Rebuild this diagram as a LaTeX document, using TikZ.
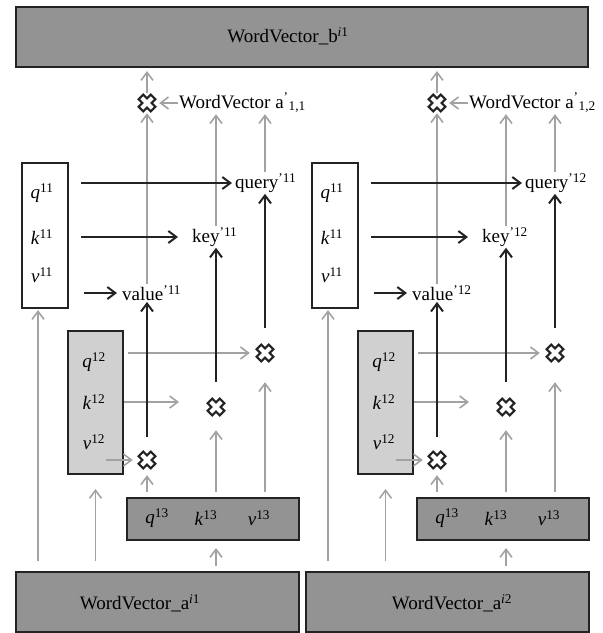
\documentclass[tikz,border=0pt]{standalone}
\usepackage{fontspec}
\setmainfont{Liberation Serif}
\usetikzlibrary{arrows.meta}

\definecolor{boxgray}{RGB}{147,147,147}
\definecolor{lightbox}{RGB}{208,208,208}
\definecolor{linegray}{RGB}{162,162,162}
\definecolor{inkdark}{RGB}{35,35,35}

\tikzset{
  mulx/.style={minimum size=20pt, inner sep=0pt, path picture={
    \draw[inkdark, line width=2.2pt, fill=white, shift={(path picture bounding box.center)}]
      (-3.75,8.41) -- (0,4.67) -- (3.75,8.41) -- (8.41,3.75) -- (4.67,0) -- (8.41,-3.75)
      -- (3.75,-8.41) -- (0,-4.67) -- (-3.75,-8.41) -- (-8.41,-3.75) -- (-4.67,0) -- (-8.41,3.75) -- cycle;}},
}

\begin{document}
\begin{tikzpicture}[x=1pt, y=-1pt,
    >={Straight Barb[length=8pt, width=12pt]},
    every node/.style={font=\fontsize{19}{22}\selectfont, inner sep=1pt},
    dkbox/.style={draw=inkdark, line width=2pt, fill=boxgray},
    ltbox/.style={draw=inkdark, line width=2pt, fill=lightbox},
    whbox/.style={draw=inkdark, line width=2pt, fill=white},
    garrow/.style={->, draw=linegray, line width=1.6pt},
    barrow/.style={->, draw=inkdark, line width=2pt}]
    \useasboundingbox (0,0) rectangle (603,633);

    % Sortie
    \node[dkbox, minimum width=572pt, minimum height=60pt] (out) at (302,37) {};
    \node (outtxt) at (288,36) {WordVector\_b\textsuperscript{\textit{i}1}};

    \foreach \i/\tx in {1/140,2/162}{
    \begin{scope}[xshift={(\i-1)*290pt}]
    % Entree
    \node[dkbox, minimum width=283pt, minimum height=60pt] (in\i) at (157.5,602) {};
    \node (intxt\i) at (\tx,603) {WordVector\_a\textsuperscript{\textit{i}\i}};

    % Boites q k v
    \node[whbox, minimum width=46pt, minimum height=145pt] (qkvA\i) at (45,235.5) {};
    \node (qa\i) at (42,193) {\textit{q}\textsuperscript{11}};
    \node (ka\i) at (42,237) {\textit{k}\textsuperscript{11}};
    \node (va\i) at (42,275) {\textit{v}\textsuperscript{11}};
    \node[ltbox, minimum width=55pt, minimum height=143pt] (qkvB\i) at (95.5,402.5) {};
    \node (qb\i) at (94,362) {\textit{q}\textsuperscript{12}};
    \node (kb\i) at (94,402) {\textit{k}\textsuperscript{12}};
    \node (vb\i) at (94,442) {\textit{v}\textsuperscript{12}};
    \node[dkbox, minimum width=172pt, minimum height=42pt] (qkvC\i) at (213,519) {};
    \node (qc\i) at (157,518) {\textit{q}\textsuperscript{13}};
    \node (kc\i) at (206,518) {\textit{k}\textsuperscript{13}};
    \node (vc\i) at (259,518) {\textit{v}\textsuperscript{13}};
    \coordinate (ax\i) at (38,310);

    % Produits
    \node[mulx] (m0\i) at (147,103) {};
    \node[mulx] (m1\i) at (265,353) {};
    \node[mulx] (m2\i) at (216,407) {};
    \node[mulx] (m3\i) at (147,460) {};

    % Resultats
    \node[anchor=west] (aw\i) at (178,103) {WordVector a\textsuperscript{'}\textsubscript{1,\i}};
    \node[anchor=west] (qry\i) at (234,183) {query\textsuperscript{'1\i}};
    \node[anchor=west] (key\i) at (191,237) {key\textsuperscript{'1\i}};
    \node[anchor=west] (val\i) at (121,293) {value\textsuperscript{'1\i}};

    % Fleches grises
    \draw[garrow, shorten >=3pt] (m0\i) -- (m0\i |- out.south);
    \draw[garrow, shorten >=2pt] (aw\i) -- (m0\i);
    \draw[garrow] (m3\i |- val\i.north) -- (m0\i);
    \draw[garrow] (m2\i |- key\i.north) -- (m2\i |- aw\i.south);
    \draw[garrow] (m1\i |- qry\i.north) -- (m1\i |- aw\i.south);
    \draw[garrow, shorten <=4pt, shorten >=5pt] (qkvB\i.east |- m1\i) -- (m1\i);
    \draw[garrow, shorten >=12pt] (qkvB\i.east |- kb\i) -- (key\i.west |- kb\i);
    \draw[garrow, shorten >=4pt] (vb\i.east |- m3\i) -- (m3\i);
    \draw[garrow, shorten <=5pt, shorten >=5pt] (m3\i |- qkvC\i.north) -- (m3\i);
    \draw[garrow, shorten <=5pt, shorten >=13pt] (m2\i |- qkvC\i.north) -- (m2\i);
    \draw[garrow, shorten <=5pt, shorten >=19pt] (m1\i |- qkvC\i.north) -- (m1\i);
    \draw[garrow, shorten <=10pt, shorten >=1pt] (ax\i |- in\i.north) -- (ax\i |- qkvA\i.south);
    \draw[garrow, shorten <=10pt, shorten >=14pt] (qkvB\i |- in\i.north) -- (qkvB\i.south);
    \draw[garrow, shorten <=5pt, shorten >=7pt] (m2\i |- in\i.north) -- (m2\i |- qkvC\i.south);

    % Fleches noires
    \draw[barrow, shorten <=12pt, shorten >=2pt] (qkvA\i.east |- qry\i) -- (qry\i);
    \draw[barrow, shorten <=12pt, shorten >=13pt] (qkvA\i.east |- key\i) -- (key\i);
    \draw[barrow, shorten <=15pt, shorten >=4pt] (qkvA\i.east |- val\i) -- (val\i);
    \draw[barrow, shorten <=15pt] (m1\i) -- (m1\i |- qry\i.south);
    \draw[barrow, shorten <=15pt] (m2\i) -- (m2\i |- key\i.south);
    \draw[barrow, shorten <=13pt] (m3\i) -- (m3\i |- val\i.south);
    \end{scope}
    }
\end{tikzpicture}
\end{document}
